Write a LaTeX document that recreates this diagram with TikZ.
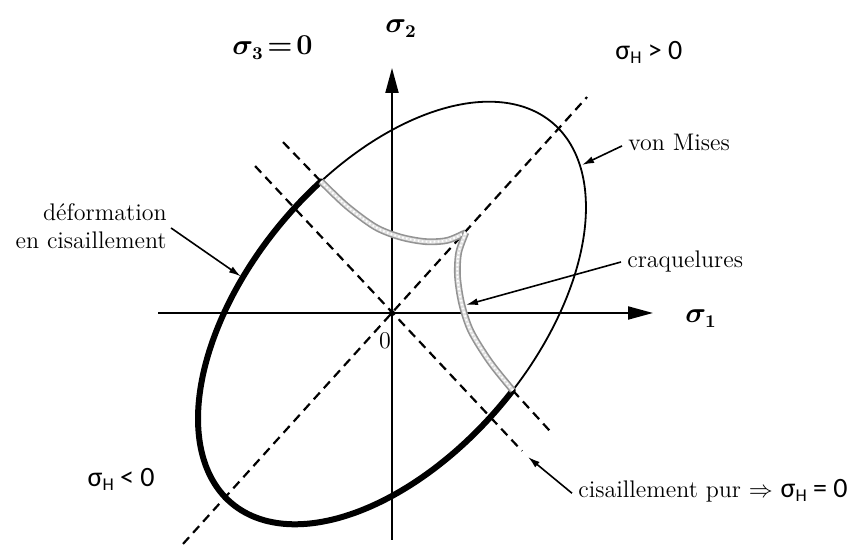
\documentclass[tikz,border=0pt]{standalone}
\usepackage{amsmath}
\usepackage{fontspec}
\newfontfamily\calib{Carlito}
\usetikzlibrary{arrows.meta}
\newcommand{\sigH}{σ\raisebox{-0.25ex}{\fontsize{9}{10}\selectfont H}}
\begin{document}
\begin{tikzpicture}[x=0.5pt,y=0.5pt,
  axis/.style={line width=1pt, -{Triangle[length=12.5pt,width=6.5pt]}},
  dashln/.style={line width=1.1pt, dash pattern=on 4.5pt off 3pt},
  thinell/.style={line width=0.9pt},
  thickell/.style={line width=3pt},
  crack/.style={draw=gray!85, double=gray!25, double distance=1.8pt, line width=0.8pt},
  crackdots/.style={draw=white, line width=1pt, dash pattern=on 0.8pt off 1.2pt},
  lblarrow/.style={line width=0.8pt, -{Latex[length=6pt,width=3.5pt]}},
  serif/.style={font=\fontsize{12}{14}\selectfont, inner sep=0pt},
  sans/.style={font=\calib\fontsize{14}{16}\selectfont, inner sep=0pt},
  sig/.style={font=\fontsize{13.5}{16}\selectfont\boldmath, inner sep=0pt}]
\useasboundingbox (0,0) rectangle (859,545);
% axes
\coordinate (O)  at (392,232);
\coordinate (xL) at (158,232);
\coordinate (xR) at (653,232);
\coordinate (yB) at (392,5);
\coordinate (yT) at (392,477);
\draw[axis] (xL) -- (xR);
\draw[axis] (yB) -- (yT);
\fill (O) circle[radius=3];
\node[font=\fontsize{12}{14}\selectfont, inner sep=0pt] (zero) at (385,204) {0};
% stress-space geometry (sigma units)
\begin{scope}[shift={(392,232)}, x=84pt, y=91.5pt]
  \coordinate (dLL) at (-1.244,-1.262);
  \coordinate (dUR) at (1.161,1.180);
  \coordinate (m1a) at (-0.815,0.803);
  \coordinate (m1b) at (0.774,-0.754);
  \coordinate (m2a) at (-0.649,0.934);
  \coordinate (A)   at (-0.423,0.719);
  \coordinate (B)   at (0.719,-0.423);
  \coordinate (m2b) at (0.940,-0.645);
  \coordinate (vmT) at (1.131,0.809);
  \coordinate (defT) at (-0.90,0.20);
  \coordinate (crT) at (0.44,0.044);
  \coordinate (ciT) at (0.81,-0.787);
  % dashed lines
  \draw[dashln] (dLL) -- (dUR);
  \draw[dashln] (m1a) -- (m1b);
  \draw[dashln] (m2a) -- (A);
  \draw[dashln] (B) -- (m2b);
  % von Mises ellipse
  \draw[thinell] plot[domain=-81.5:81.5, samples=90, smooth]
     ({cos(\x)-sin(\x)/sqrt(3)},{cos(\x)+sin(\x)/sqrt(3)});
  \draw[thickell, line cap=round] plot[domain=81.5:278.5, samples=120, smooth]
     ({cos(\x)-sin(\x)/sqrt(3)},{cos(\x)+sin(\x)/sqrt(3)});
  % craquelures
  \foreach \s in {crack,crackdots}{
    \draw[\s] plot[smooth] coordinates {(A) (-0.27,0.585) (-0.10,0.47) (0.05,0.415) (0.2,0.39) (0.33,0.397) (0.44,0.44)};
    \draw[\s] plot[smooth] coordinates {(B) (0.585,-0.27) (0.47,-0.10) (0.415,0.05) (0.39,0.2) (0.397,0.33) (0.44,0.44)};
  }
\end{scope}
% labels
\node[sig, anchor=base west] (s2) at (385,512) {$\sigma_2$};
\node[sig, anchor=base west] (s1) at (685,222) {$\sigma_1$};
\node[sig, anchor=base west] (s3) at (232,490) {$\sigma_3\mkern2mu{=}\mkern2mu0$};
\node[sans, anchor=base west] (hp) at (615,485) {\sigH{} > 0};
\node[sans, anchor=base east] (hn) at (155,58) {\sigH{} < 0};
\node[serif, anchor=base west] (vm) at (628,394) {von Mises};
\node[serif, anchor=base west] (cr) at (627,277) {craquelures};
\node[serif, anchor=north east, align=right] (defo) at (167,342) {déformation\\en cisaillement};
\node[serif, anchor=base west] (ci) at (578,47) {cisaillement pur $\Rightarrow$ {\calib\fontsize{14}{16}\selectfont\sigH{} = 0}};
% label arrows
\draw[lblarrow] ([xshift=-3pt,yshift=-1.5pt]vm.west) -- (vmT);
\draw[lblarrow] ([xshift=-3pt]cr.west) -- (crT);
\draw[lblarrow] ([xshift=2pt,yshift=-1pt]defo.east) -- (defT);
\draw[lblarrow] ([xshift=-3pt,yshift=-1pt]ci.west) -- (ciT);
\end{tikzpicture}
\end{document}
